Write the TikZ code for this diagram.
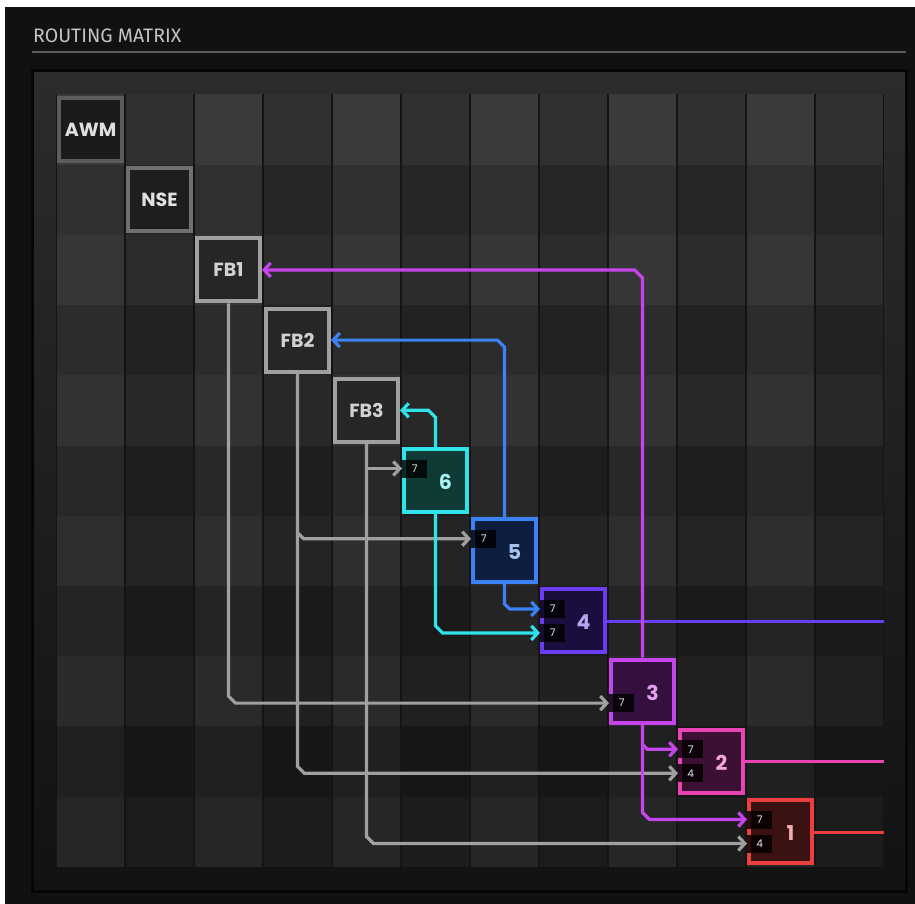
\documentclass[tikz,border=0pt]{standalone}
\usepackage{fontspec}
\setmainfont{Poppins}
\newfontfamily\titlefont{Fira Sans}
\usetikzlibrary{arrows.meta,calc}
\definecolor{outerbg}{HTML}{111111}
\definecolor{titlec}{HTML}{C4C4C4}
\definecolor{rulec}{HTML}{5A5A5A}
\definecolor{paneltop}{HTML}{2C2C2C}
\definecolor{panelbot}{HTML}{121212}
\definecolor{panelborder}{HTML}{060606}
\definecolor{gapc}{HTML}{141414}
\definecolor{grayC}{HTML}{A0A0A0}
\definecolor{cyanC}{HTML}{30E3EA}
\definecolor{blueC}{HTML}{3B82F6}
\definecolor{purpC}{HTML}{6A3CF2}
\definecolor{magC}{HTML}{C644EC}
\definecolor{pinkC}{HTML}{E844B4}
\definecolor{redC}{HTML}{EA3F3F}
\definecolor{fill6}{HTML}{0F3B37}
\definecolor{fill5}{HTML}{0E1E3E}
\definecolor{fill4}{HTML}{1B0E3E}
\definecolor{fill3}{HTML}{33103E}
\definecolor{fill2}{HTML}{3C1033}
\definecolor{fill1}{HTML}{3B1212}
\definecolor{txt6}{HTML}{A8F4F0}
\definecolor{txt5}{HTML}{A6C2F2}
\definecolor{txt4}{HTML}{B5A6F2}
\definecolor{txt3}{HTML}{E6A0F2}
\definecolor{txt2}{HTML}{F4A8D6}
\definecolor{txt1}{HTML}{F4AAAA}
\definecolor{awmfill}{HTML}{1B1B1B}
\definecolor{awmborder}{HTML}{5C5C5C}
\definecolor{nsefill}{HTML}{1E1E1E}
\definecolor{nseborder}{HTML}{707070}
\definecolor{fbfill}{HTML}{262626}
\definecolor{nodetxt}{HTML}{E0E0E0}
\definecolor{fbtxt}{HTML}{D2D2D2}
\definecolor{tagtxt}{HTML}{E8E8E8}
\begin{document}
\begin{tikzpicture}[x=1pt,y=-1pt,
  box/.style={rectangle, minimum size=63pt, inner sep=0pt, line width=4pt,
    font=\bfseries\fontsize{19}{21}\selectfont},
  numtxt/.style={inner sep=0pt, font=\bfseries\fontsize{20.5}{22}\selectfont},
  tag/.style={rectangle, anchor=west, minimum width=25pt, minimum height=18pt, inner sep=0pt,
    fill=black, fill opacity=0.8, text opacity=1, text=tagtxt,
    font=\fontsize{10.5}{11}\selectfont},
  conn/.style={line width=3.2pt},
  outl/.style={line width=3pt},
  arr/.style={-{Straight Barb[length=6.5pt,width=14pt]}}
]
\useasboundingbox (0,0) rectangle (915,904);
\fill[white] (0,0) rectangle (915,904);
\fill[outerbg] (5,7) rectangle (915,904);
\node[anchor=base west, inner sep=0pt, text=titlec, font=\titlefont\fontsize{19.5}{22}\selectfont] (title) at (33,43) {ROUTING MATRIX};
\draw[rulec, line width=1.5pt] (32,52) -- (906,52);
% panel
\shade[top color=paneltop, bottom color=panelbot] (32,71) rectangle (906,891);
\draw[panelborder, line width=3pt] (32,71) rectangle (906,891);
\fill[gapc] (56,94.5) rectangle (884,866.7);
\foreach \c in {0,...,11}{
  \foreach \r in {0,...,10}{
    \pgfmathsetmacro\g{(58-2*\r-10*mod(\c,2)-8*mod(\r,2))/255}
    \definecolor{cellc}{gray}{\g}
    \fill[cellc] ({56+69*\c+0.7},{94.5+70.2*\r}) rectangle ({56+69*\c+69-0.7},{94.5+70.2*(\r+1)});
  }
}
% nodes
\node[box, fill=awmfill, draw=awmborder, text=nodetxt] (awm) at (90.5,129.5) {AWM};
\node[box, fill=nsefill, draw=nseborder, text=nodetxt] (nse) at (159.5,199.7) {NSE};
\node[box, fill=fbfill, draw=grayC, text=fbtxt] (fb1) at (228.5,269.9) {FB1};
\node[box, fill=fbfill, draw=grayC, text=fbtxt] (fb2) at (297.5,340.1) {FB2};
\node[box, fill=fbfill, draw=grayC, text=fbtxt] (fb3) at (366.5,410.3) {FB3};
\node[box, fill=fill6, draw=cyanC] (n6) at (435.5,480.5) {};
\node[box, fill=fill5, draw=blueC] (n5) at (504.5,550.7) {};
\node[box, fill=fill4, draw=purpC] (n4) at (573.5,620.9) {};
\node[box, fill=fill3, draw=magC] (n3) at (642.5,691.1) {};
\node[box, fill=fill2, draw=pinkC] (n2) at (711.5,761.3) {};
\node[box, fill=fill1, draw=redC] (n1) at (780.5,831.5) {};
% input slots
\coordinate (n6a) at ([yshift=12pt]n6.west);
\coordinate (n5a) at ([yshift=12pt]n5.west);
\coordinate (n4a) at ([yshift=12pt]n4.west);
\coordinate (n4b) at ([yshift=-12pt]n4.west);
\coordinate (n3b) at ([yshift=-12pt]n3.west);
\coordinate (n2a) at ([yshift=12pt]n2.west);
\coordinate (n2b) at ([yshift=-12pt]n2.west);
\coordinate (n1a) at ([yshift=12pt]n1.west);
\coordinate (n1b) at ([yshift=-12pt]n1.west);
% outputs
\coordinate (o4) at (884,621.5);
\coordinate (o2) at (884,761.8);
\coordinate (o1) at (884,832);
\draw[outl, purpC] ([yshift=-0.6pt]n4.east) -- (o4);
\draw[outl, pinkC] ([yshift=-0.5pt]n2.east) -- (o2);
\draw[outl, redC] ([yshift=-0.5pt]n1.east) -- (o1);
% gray feeds
\draw[conn, grayC, arr] (fb1.south) -- ($(fb1.south|-n3b)+(0,-7)$) -- ($(fb1.south|-n3b)+(7,0)$) -- (n3b);
\draw[conn, grayC, arr] (fb2.south) -- ($(fb2.south|-n2b)+(0,-7)$) -- ($(fb2.south|-n2b)+(7,0)$) -- (n2b);
\draw[conn, grayC, arr] ($(fb2.south|-n5a)+(0,-6)$) -- ($(fb2.south|-n5a)+(6,0)$) -- (n5a);
\draw[conn, grayC, arr] (fb3.south) -- ($(fb3.south|-n1b)+(0,-7)$) -- ($(fb3.south|-n1b)+(7,0)$) -- (n1b);
\draw[conn, grayC, arr] (fb3.south|-n6a) -- (n6a);
% returns
\draw[conn, magC, arr] (n3.north) -- ($(n3.north|-fb1.east)+(0,8)$) -- ($(n3.north|-fb1.east)+(-8,0)$) -- (fb1.east);
\draw[conn, blueC, arr] (n5.north) -- ($(n5.north|-fb2.east)+(0,7)$) -- ($(n5.north|-fb2.east)+(-7,0)$) -- (fb2.east);
\draw[conn, cyanC, arr] (n6.north) -- ($(n6.north|-fb3.east)+(0,7)$) -- ($(n6.north|-fb3.east)+(-7,0)$) -- (fb3.east);
% forward colored
\draw[conn, cyanC, arr] (n6.south) -- ($(n6.south|-n4b)+(0,-7)$) -- ($(n6.south|-n4b)+(7,0)$) -- (n4b);
\draw[conn, blueC, arr] (n5.south) -- ($(n5.south|-n4a)+(0,-5)$) -- ($(n5.south|-n4a)+(5,0)$) -- (n4a);
\draw[conn, magC, arr] (n3.south) -- ($(n3.south|-n1a)+(0,-7)$) -- ($(n3.south|-n1a)+(7,0)$) -- (n1a);
\draw[conn, magC, arr] ($(n3.south|-n2a)+(0,-5)$) -- ($(n3.south|-n2a)+(5,0)$) -- (n2a);
% numbers
\node[numtxt, text=txt6] (l6) at ([xshift=10pt,yshift=-1.5pt]n6.center) {6};
\node[numtxt, text=txt5] (l5) at ([xshift=10pt,yshift=-1.5pt]n5.center) {5};
\node[numtxt, text=txt4] (l4) at ([xshift=10pt,yshift=-1.5pt]n4.center) {4};
\node[numtxt, text=txt3] (l3) at ([xshift=10pt,yshift=-1.5pt]n3.center) {3};
\node[numtxt, text=txt2] (l2) at ([xshift=10pt,yshift=-1.5pt]n2.center) {2};
\node[numtxt, text=txt1] (l1) at ([xshift=10pt,yshift=-1.5pt]n1.center) {1};
% tags
\node[tag] (t6a) at (n6a) {7};
\node[tag] (t5a) at (n5a) {7};
\node[tag] (t4a) at (n4a) {7};
\node[tag] (t4b) at (n4b) {7};
\node[tag] (t3b) at (n3b) {7};
\node[tag] (t2a) at (n2a) {7};
\node[tag] (t2b) at (n2b) {4};
\node[tag] (t1a) at (n1a) {7};
\node[tag] (t1b) at (n1b) {4};
\end{tikzpicture}
\end{document}
